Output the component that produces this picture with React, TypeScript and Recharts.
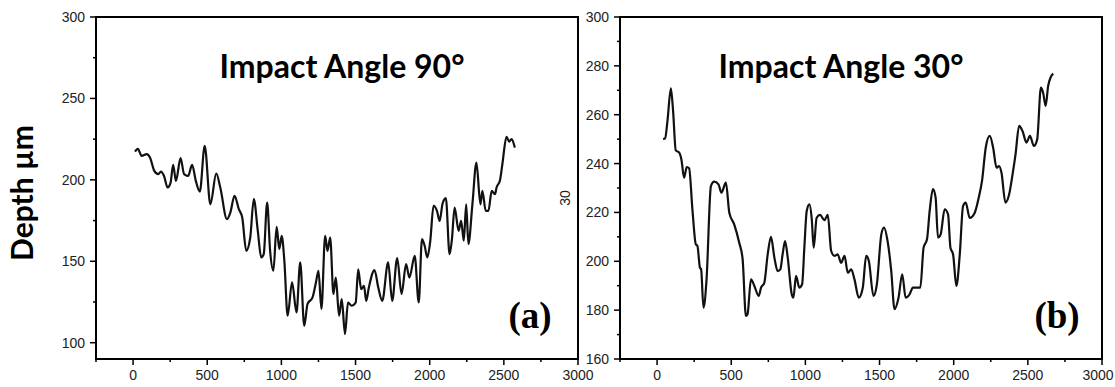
import React from 'react';
import { LineChart, Line, XAxis, YAxis, ReferenceArea, Customized } from 'recharts';

// profile across the crater, impact angle 90 deg (panel a)
const leftX = [13, 32, 58, 92, 114, 143, 170, 188, 208, 233, 253, 270, 289, 320, 344, 371, 398, 423, 450, 483,
  521, 561, 588, 633, 656, 684, 713, 736, 763, 790, 814, 841, 864, 881, 904, 924, 946, 968, 986, 1002,
  1020, 1042, 1072, 1102, 1127, 1154, 1176, 1210, 1233, 1250, 1270, 1295, 1311, 1329, 1351, 1367, 1389, 1407, 1429, 1449,
  1474, 1501, 1518, 1538, 1557, 1572, 1590, 1628, 1653, 1680, 1720, 1747, 1781, 1810, 1841, 1863, 1899, 1926, 1948, 1966,
  1984, 2004, 2026, 2049, 2067, 2087, 2109, 2134, 2150, 2168, 2195, 2212, 2230, 2246, 2261, 2288, 2315, 2342, 2355, 2378,
  2396, 2418, 2440, 2451, 2474, 2490, 2518, 2536, 2552, 2574];
const leftDepth = [217.3, 219, 214.7, 215.8, 213.7, 205.5, 203.5, 205, 202.5, 195.3, 198.3, 209.2, 199.4, 213.3, 203.5, 202.4, 209.2, 199.4, 192.8, 220.9,
  185, 203.9, 195.3, 175.9, 180, 190.2, 182, 176.9, 156.4, 164.6, 188.2, 168.7, 152.4, 154.4, 186.1, 156.4, 144.2, 171.2, 157.5, 165.6,
  150.3, 116.6, 137, 118.6, 149.3, 110.4, 123.7, 127.8, 137, 144.2, 120.7, 165.6, 156.4, 164.6, 129.9, 140, 116.6, 126.8, 105.3, 124.7,
  122.7, 124.7, 145, 132.9, 134.9, 125.7, 134, 144.6, 134, 125.7, 149.3, 125.7, 152, 129.9, 148.2, 140, 153.4, 124.7, 163.6, 159.5,
  152.4, 162.6, 184.1, 181, 174.8, 185.5, 188.8, 154.4, 163.6, 183, 168.7, 174.8, 162.6, 185, 160.6, 185, 210.6, 185, 193.2, 181,
  181, 193.2, 191.2, 195.3, 199.8, 209.6, 226.4, 223.5, 225, 219.8];

// impact angle 30 deg (panel b)
const rightX = [41, 54, 70, 93, 108, 126, 149, 164, 182, 200, 216, 239, 261, 272, 289, 297, 313, 333, 363, 385,
  414, 434, 464, 487, 520, 554, 577, 599, 610, 633, 656, 685, 701, 723, 746, 768, 791, 813, 831, 847,
  863, 881, 908, 919, 937, 959, 978, 993, 1009, 1027, 1043, 1056, 1076, 1099, 1128, 1151, 1174, 1196, 1218, 1241,
  1264, 1286, 1309, 1331, 1360, 1387, 1410, 1428, 1459, 1482, 1512, 1530, 1556, 1579, 1601, 1628, 1653, 1676, 1703, 1725,
  1752, 1775, 1797, 1820, 1838, 1860, 1878, 1894, 1912, 1939, 1962, 1978, 1996, 2018, 2041, 2063, 2081, 2108, 2142, 2169,
  2191, 2216, 2243, 2266, 2289, 2306, 2322, 2349, 2374, 2397, 2417, 2441, 2464, 2491, 2514, 2541, 2563, 2588, 2603, 2620,
  2637, 2653, 2671];
const rightDepth = [250, 250.3, 257.4, 270.8, 261.5, 245.4, 244.5, 241.7, 234.2, 238.6, 238.1, 220.6, 207, 206.3, 197.4, 196.7, 181, 192, 230.8, 232.6,
  231.5, 228.1, 232.2, 219.9, 215.1, 207.6, 200.8, 177.6, 178.3, 192.6, 189.9, 185.8, 189.2, 191.2, 202.9, 210, 201.5, 196, 196.7, 203.1,
  208.3, 201.5, 186.5, 185.1, 194, 189.2, 190.6, 205.6, 220.6, 223.3, 217.2, 205.6, 217.8, 219, 216.8, 219, 204.2, 202.2, 202.8, 199.4,
  202.2, 195.3, 196.7, 192.6, 185.1, 189.2, 202.2, 200.1, 185.8, 190.6, 211, 213.8, 207.6, 196, 180.4, 185.1, 194.7, 185.1, 186.5, 189.2,
  189.2, 189.2, 205.6, 209, 220.6, 229.5, 226.1, 209.7, 211, 221.3, 219.2, 205.6, 202.8, 189.9, 202.8, 222.6, 224, 217.8, 219.9, 226.1,
  232.9, 246.5, 251.3, 246.5, 238.3, 239, 236.3, 224, 227.4, 235.6, 243.8, 255.4, 253.3, 248.6, 251.3, 247.2, 249.9, 271.1, 269, 263.6,
  271.8, 275.2, 276.8];

const xTicks = [-250, 0, 250, 500, 750, 1000, 1250, 1500, 1750, 2000, 2250, 2500, 2750, 3000];
const leftYTicks = [100, 125, 150, 175, 200, 225, 250, 275, 300];
const rightYTicks = [160, 170, 180, 190, 200, 210, 220, 230, 240, 250, 260, 270, 280, 290, 300];

const leftData = leftX.map((x, i) => ({ x, depth: leftDepth[i] }));
const rightData = rightX.map((x, i) => ({ x, depth: rightDepth[i] }));

const tickFont = { fontFamily: 'Liberation Sans, Arial, sans-serif', fontSize: 14, fill: '#222' };

// pinLast: nudge the last label left so it stays on the page
const makeXTick = (every: number, pinLast: boolean) => (p: any) => {
  const v = Number(p.payload.value);
  const x = Number(p.x);
  const y = Number(p.y);
  const major = v % every === 0 && v >= 0;
  const lx = pinLast && v === 3000 ? x - 4 : x;
  return (
    <g>
      <line x1={x} x2={x} y1={y} y2={y + (major ? 6 : 3)} stroke="#000" strokeWidth={1.5} />
      {major && <text x={lx} y={y + 21} textAnchor="middle" {...tickFont}>{v}</text>}
    </g>
  );
};

const makeYTick = (every: number) => (p: any) => {
  const major = p.payload.value % every === 0;
  return (
    <g>
      <line x1={p.x - (major ? 6 : 3)} x2={p.x} y1={p.y} y2={p.y} stroke="#000" strokeWidth={1.5} />
      {major && <text x={p.x - 11} y={p.y + 5} textAnchor="end" {...tickFont}>{p.payload.value}</text>}
    </g>
  );
};

const titleStyle = { fontFamily: 'Lato, Open Sans, sans-serif', fontWeight: 700, fontSize: 32, fill: '#000' };
const tagStyle = { fontFamily: 'Liberation Serif, Times New Roman, serif', fontWeight: 700, fontSize: 37, fill: '#000' };

function Panel(props: {
  data: { x: number; depth: number }[];
  yDomain: [number, number];
  yTicks: number[];
  yEvery: number;
  width: number;
  yAxisWidth: number;
  left: number;
  right: number;
  pinLast: boolean;
  extras: () => React.ReactElement;
}) {
  const { data, yDomain, yTicks, yEvery, width, yAxisWidth, left, right, pinLast, extras } = props;
  return (
    <LineChart width={width} height={387} data={data} margin={{ top: 17, right, bottom: 0, left }}>
      <XAxis type="number" dataKey="x" domain={[-250, 3000]} ticks={xTicks} allowDataOverflow
        height={28} tickSize={0} tickMargin={0} tickLine={false} interval={0}
        axisLine={{ stroke: '#000', strokeWidth: 2 }} tick={makeXTick(500, pinLast)} />
      <YAxis type="number" domain={yDomain} ticks={yTicks} allowDataOverflow width={yAxisWidth}
        tickSize={0} tickMargin={0} tickLine={false} interval={0}
        axisLine={{ stroke: '#000', strokeWidth: 2 }} tick={makeYTick(yEvery)} />
      <ReferenceArea x1={-250} x2={3000} y1={yDomain[0]} y2={yDomain[1]} fill="none" stroke="#000" strokeWidth={2} ifOverflow="visible" />
      <Line type="monotone" dataKey="depth" stroke="#111" strokeWidth={2.2} dot={false} isAnimationActive={false} />
      <Customized component={extras} />
    </LineChart>
  );
}

export default function App() {
  return (
    <div style={{ position: 'fixed', left: 0, top: 0, width: 1115, height: 387, background: '#fff', overflow: 'hidden' }}>
      <div style={{ position: 'absolute', left: 0, top: 0 }}>
        <Panel data={leftData} yDomain={[90, 300]} yTicks={leftYTicks} yEvery={50} width={600}
          yAxisWidth={96} left={0} right={22} pinLast={false}
          extras={() => (
            <g>
              <text x={342} y={78} textAnchor="middle" {...titleStyle}>Impact Angle 90°</text>
              <text x={530} y={328} textAnchor="middle" {...tagStyle}>(a)</text>
              <text x={0} y={0} transform="translate(33,193) rotate(-90)" textAnchor="middle"
                style={{ fontFamily: 'Lato, Open Sans, sans-serif', fontWeight: 700, fontSize: 30 }} fill="#000">Depth µm</text>
            </g>
          )} />
      </div>
      <div style={{ position: 'absolute', left: 540, top: 0, width: 600 }}>
        <Panel data={rightData} yDomain={[160, 300]} yTicks={rightYTicks} yEvery={20} width={600}
          yAxisWidth={60} left={20} right={38} pinLast={true}
          extras={() => (
            <g>
              <text x={301} y={78} textAnchor="middle" {...titleStyle}>Impact Angle 30°</text>
              <text x={517} y={328} textAnchor="middle" {...tagStyle}>(b)</text>
              <text x={0} y={0} transform="translate(30,198) rotate(-90)" textAnchor="middle" {...tickFont}>30</text>
            </g>
          )} />
      </div>
    </div>
  );
}
